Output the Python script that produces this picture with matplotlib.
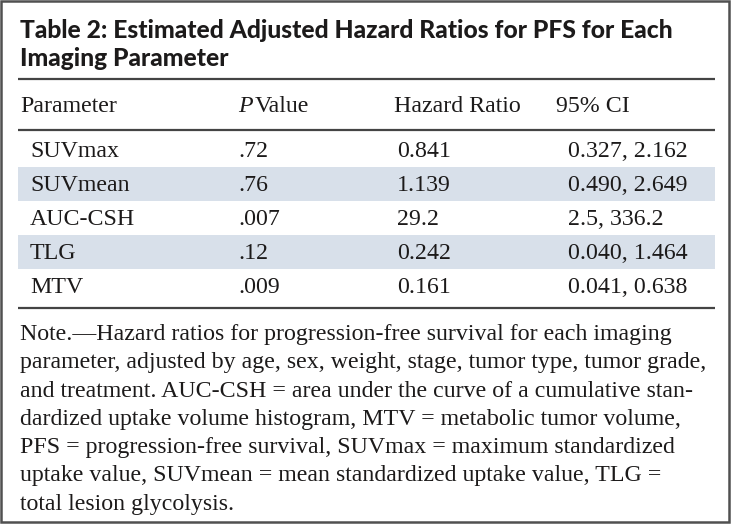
import matplotlib.pyplot as plt
from matplotlib.patches import Rectangle

# table content
title_lines = ["Table 2: Estimated Adjusted Hazard Ratios for PFS for Each",
               "Imaging Parameter"]
parameters = ["SUVmax", "SUVmean", "AUC-CSH", "TLG", "MTV"]
p_values = [".72", ".76", ".007", ".12", ".009"]
hazard_ratios = ["0.841", "1.139", "29.2", "0.242", "0.161"]
ci_ranges = ["0.327, 2.162", "0.490, 2.649", "2.5, 336.2", "0.040, 1.464", "0.041, 0.638"]
note_lines = [
    "Note.\u2014Hazard ratios for progression-free survival for each imaging",
    "parameter, adjusted by age, sex, weight, stage, tumor type, tumor grade,",
    "and treatment. AUC-CSH = area under the curve of a cumulative stan-",
    "dardized uptake volume histogram, MTV = metabolic tumor volume,",
    "PFS = progression-free survival, SUVmax = maximum standardized",
    "uptake value, SUVmean = mean standardized uptake value, TLG =",
    "total lesion glycolysis.",
]

W, H = 733, 524
SERIF = "Liberation Serif"
BODY = 17.2
BAND = "#d8e0ea"
RULE = "#444444"
INK = "#1c1a1a"

fig = plt.figure(figsize=(W / 100, H / 100), dpi=100)
ax = fig.add_axes([0, 0, 1, 1])
ax.set_xlim(0, W)
ax.set_ylim(H, 0)
ax.axis("off")

# outer frame
ax.add_patch(Rectangle((1, 1), W - 5, H - 3, fill=False, edgecolor="#505050", lw=1.8))

# title
for i, line in enumerate(title_lines):
    ax.text(20, 38 + 28 * i, line, family="Lato", weight="black", fontsize=17.7,
            color=INK, va="baseline")

left, right = 18, 715
for y in (79, 130, 308):
    ax.plot([left, right], [y, y], color=RULE, lw=1.6, solid_capstyle="butt")

# header
hy = 112
ax.text(20, hy, "Parameter", family=SERIF, fontsize=BODY, color=INK, va="baseline")
ax.text(238, hy, "P", family=SERIF, style="italic", fontsize=BODY, color=INK, va="baseline")
ax.text(255, hy, "Value", family=SERIF, fontsize=BODY, color=INK, va="baseline")
ax.text(394, hy, "Hazard Ratio", family=SERIF, fontsize=BODY, color=INK, va="baseline")
ax.text(556, hy, "95% CI", family=SERIF, fontsize=BODY, color=INK, va="baseline")

# rows
pitch = 34
for i, (name, p, hr, ci) in enumerate(zip(parameters, p_values, hazard_ratios, ci_ranges)):
    yc = 150 + pitch * i
    if i % 2 == 1:
        ax.add_patch(Rectangle((left, yc - pitch / 2), right - left, pitch,
                               facecolor=BAND, edgecolor="none"))
    yb = yc + 7
    ax.text(30, yb, name, family=SERIF, fontsize=BODY, color=INK, va="baseline")
    ax.text(238, yb, p, family=SERIF, fontsize=BODY, color=INK, va="baseline")
    ax.text(397, yb, hr, family=SERIF, fontsize=BODY, color=INK, va="baseline")
    ax.text(568, yb, ci, family=SERIF, fontsize=BODY, color=INK, va="baseline")

# footnote
for i, line in enumerate(note_lines):
    ax.text(20, 340 + 28.3 * i, line, family=SERIF, fontsize=BODY, color=INK, va="baseline")

fig.savefig("out.png", dpi=100)
